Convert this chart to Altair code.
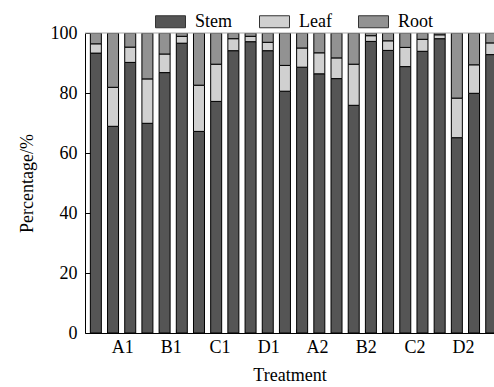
import altair as alt
import pandas as pd

parts = ["Stem", "Leaf", "Root"]
colors = ["#555555", "#d0d0d0", "#929292"]

stem = [93.3, 68.9, 90.2, 69.9, 86.8, 96.6, 67.2, 77.2, 94.1, 97.1, 94.1, 80.6,
        88.6, 86.4, 84.8, 75.9, 97.2, 94.2, 88.8, 93.9, 98.1, 65.1, 79.9, 92.8]
leaf = [3.1, 13.0, 5.1, 14.8, 6.2, 2.3, 15.4, 12.4, 4.0, 1.8, 2.8, 8.6,
        6.4, 7.0, 6.9, 13.7, 1.9, 3.2, 6.4, 4.0, 1.3, 13.2, 9.5, 3.9]
root = [3.6, 18.1, 4.7, 15.3, 7.0, 1.1, 17.4, 10.4, 1.9, 1.1, 3.1, 10.8,
        5.0, 6.6, 8.3, 10.4, 0.9, 2.6, 4.8, 2.1, 0.6, 21.7, 10.6, 3.3]

tick_labels = ["A1", "B1", "C1", "D1", "A2", "B2", "C2", "D2"]
label_pos = [1.53, 4.36, 7.2, 10.03, 12.86, 15.7, 18.53, 21.36]
y_ticks = [0, 20, 40, 60, 80, 100]
x_minor_ticks = [0.67, 1.67, 2.67, 3.67, 4.67, 5.67, 6.67, 7.67, 8.67, 9.67, 10.67,
                 11.67, 12.67, 13.67, 14.67, 15.67, 16.67, 17.67, 18.67, 19.67,
                 20.67, 21.67, 22.67]

rows = []
for i in range(len(stem)):
    for k, (p, arr) in enumerate(zip(parts, [stem, leaf, root])):
        rows.append({"idx": i, "part": p, "value": arr[i], "ord": k})
df = pd.DataFrame(rows)

FONT = "Liberation Serif"
lab_arr = "[" + ",".join("'%s'" % t for t in tick_labels) + "]"
pos_arr = "[" + ",".join(str(v) for v in label_pos) + "]"
xscale = alt.Scale(domain=[-0.34, 22.87], nice=False, zero=False)
yscale = alt.Scale(domain=[0, 100], nice=False)

bars = alt.Chart(df).mark_bar(size=11, stroke="black", strokeWidth=1, clip=True).encode(
    x=alt.X("idx:Q", scale=xscale,
            axis=alt.Axis(values=label_pos,
                          labelExpr=lab_arr + "[indexof(" + pos_arr + ", datum.value)]",
                          ticks=False, grid=False, title="Treatment",
                          domainColor="black", labelPadding=5, titlePadding=10)),
    y=alt.Y("value:Q", stack="zero", scale=yscale,
            axis=alt.Axis(values=y_ticks, title="Percentage/%", grid=False, ticks=False,
                          domainColor="black", labelPadding=8, titlePadding=14)),
    color=alt.Color("part:N",
                    scale=alt.Scale(domain=parts, range=colors),
                    legend=alt.Legend(orient="none", legendX=70, legendY=-27,
                                      direction="horizontal", title=None,
                                      symbolType="M-1,-0.4H1V0.4H-1Z", symbolSize=900,
                                      symbolStrokeColor="#333333", symbolStrokeWidth=1,
                                      labelOffset=9, columnPadding=24)),
    order=alt.Order("ord:Q"),
)

top_rule = alt.Chart(pd.DataFrame({"v": [100], "idx": [0]})).mark_rule(
    color="#a8a8a8", strokeWidth=1).encode(
    y=alt.Y("v:Q", scale=yscale,
            axis=alt.Axis(orient="left", offset=-5, values=y_ticks, labels=False,
                          domain=False, ticks=True, tickSize=5, tickColor="black",
                          title=None, grid=False)),
)

xtick_layer = alt.Chart(pd.DataFrame({"idx": [0.0]})).mark_rule(opacity=0).encode(
    x=alt.X("idx:Q", scale=xscale,
            axis=alt.Axis(orient="bottom", offset=-4, values=x_minor_ticks, labels=False,
                          domain=False, ticks=True, tickSize=4, tickColor="black",
                          title=None, grid=False)),
)

chart = alt.layer(bars, top_rule, xtick_layer).resolve_axis(
    y="independent", x="independent"
).properties(
    width=409, height=300,
    autosize=alt.AutoSizeParams(type="none"),
    padding={"left": 85, "top": 33, "right": 0, "bottom": 54},
).configure_view(stroke=None).configure_axis(
    labelFont=FONT, titleFont=FONT, labelFontSize=18, titleFontSize=18,
    labelColor="black", titleColor="black", titleFontWeight="normal",
).configure_legend(
    labelFont=FONT, labelFontSize=18, labelColor="black",
)

chart.save("out.html", embed_options={"renderer": "svg", "actions": False})
